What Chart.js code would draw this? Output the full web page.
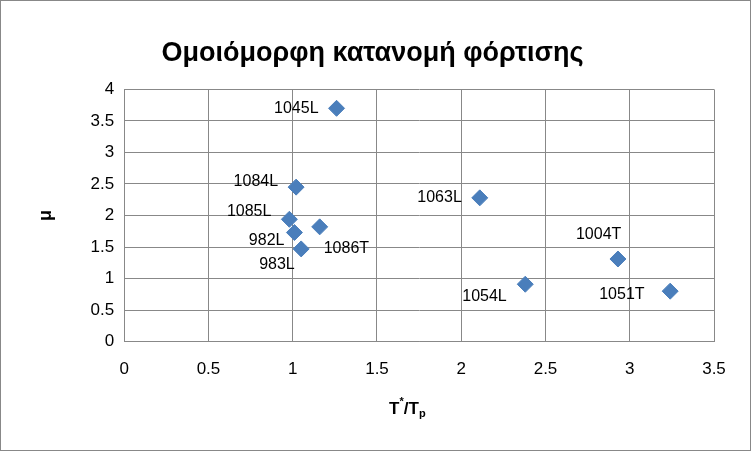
<!DOCTYPE html>
<html><head><meta charset="utf-8">
<script src="https://cdn.jsdelivr.net/npm/chart.js@4/dist/chart.umd.min.js"></script>
<style>html,body{margin:0;padding:0;background:#fff}#w{width:749px;height:449px;border:1px solid #888}</style>
</head><body><div id="w"><canvas id="c"></canvas></div>
<script>
const labels = ["1045L","1084L","1063L","1085L","1086T","982L","983L","1004T","1054L","1051T"];
const xValues = [1.26,1.02,2.11,0.98,1.16,1.01,1.05,2.93,2.38,3.24];
const yValues = [3.70,2.45,2.28,1.94,1.82,1.73,1.47,1.31,0.91,0.80];
const xTicks = [0,0.5,1,1.5,2,2.5,3,3.5];

const offsets = {"1045L":[-18,0,'right'],"1084L":[-18,-6,'right'],"1063L":[-18,0,'right'],"1085L":[-18,-8,'right'],
 "1086T":[4,22,'left'],"982L":[-10,8,'right'],"983L":[-42,16,'left'],"1004T":[-42,-24,'left'],"1054L":[-63,12,'left'],"1051T":[-71,3,'left']};
const labelPlugin = {id:'lbl', afterDatasetsDraw(ch){
  const c=ch.ctx, meta=ch.getDatasetMeta(0);
  c.save(); c.font='16px "Liberation Sans", Arial'; c.fillStyle='#000'; c.textBaseline='middle';
  meta.data.forEach((p,i)=>{const o=offsets[labels[i]]; c.textAlign=o[2]; c.fillText(labels[i],p.x+o[0],p.y+o[1]);});
  const a=ch.chartArea, cx=(a.left+a.right)/2, y=408;
  c.font='bold 17px "Liberation Sans", Arial'; c.textAlign='left';
  let x=cx-30; c.fillText('T',x,y); x+=c.measureText('T').width;
  c.font='bold 11px "Liberation Sans", Arial'; c.fillText('*',x,y-7); x+=c.measureText('*').width;
  c.font='bold 17px "Liberation Sans", Arial'; c.fillText('/T',x,y); x+=c.measureText('/T').width;
  c.font='bold 11px "Liberation Sans", Arial'; c.fillText('p',x,y+5);
  c.restore();
}};
const data = labels.map((l,i)=>({x:xValues[i],y:yValues[i]}));
new Chart(document.getElementById('c'),{
 type:'scatter',
 data:{datasets:[{data,pointStyle:'rectRot',radius:8,hoverRadius:8,backgroundColor:'#4a7ebb',borderColor:'#4a7ebb'}]},
 options:{responsive:true,maintainAspectRatio:false,animation:false,
  layout:{padding:{left:30,right:36,top:14,bottom:52}},
  plugins:{legend:{display:false},tooltip:{enabled:false},
   title:{display:true,text:'Ομοιόμορφη κατανομή φόρτισης',color:'#000',font:{size:27,weight:'bold',family:'"Liberation Sans", Arial'},padding:{top:22,bottom:20}}},
  scales:{
   x:{min:0,max:3.5,afterBuildTicks(ax){ax.ticks=xTicks.map(v=>({value:v}));},
      ticks:{color:'#000',font:{size:17,family:'"Liberation Sans", Arial'},padding:18,callback:v=>String(v)},
      grid:{color:'#888',drawTicks:false},border:{color:'#888'}},
   y:{min:0,max:4,ticks:{stepSize:0.5,color:'#000',font:{size:17,family:'"Liberation Sans", Arial'},padding:10,callback:v=>String(v)},
      grid:{color:'#888',drawTicks:false},border:{color:'#888'},
      title:{display:true,text:'μ',color:'#000',font:{size:18,weight:'bold',family:'"Liberation Sans", Arial'},padding:{bottom:24}}}
  }},
 plugins:[labelPlugin]
});
</script></body></html>
